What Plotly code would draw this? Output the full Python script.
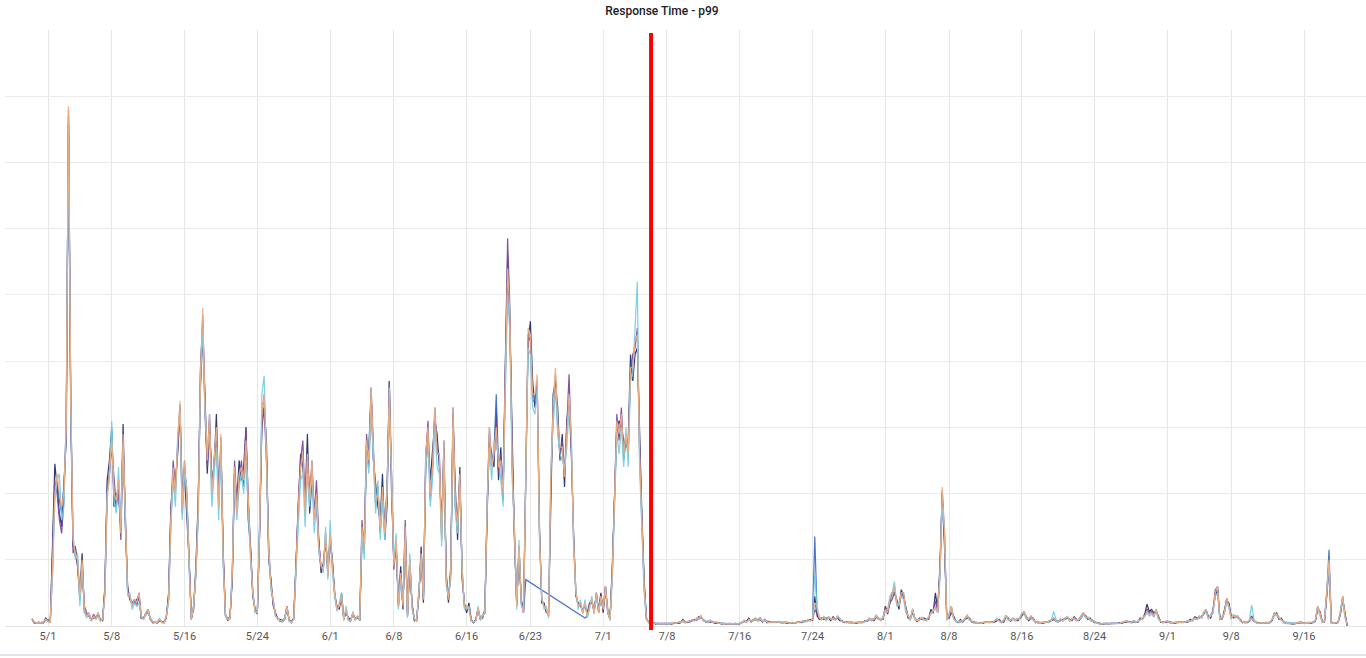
import pandas as pd
import plotly.graph_objects as go

# ---------------- data (6-hour samples starting 2019-04-29 06:00) ----------------
series_start = "2019-04-29 06:00"

node_peach = [
    0.12,0.05,0.04,0.05,0.04,0.06,0.1,0.08,0.05,0.9,
    2.0,2.3,2.0,1.8,2.0,3.0,7.85,3.5,1.3,1.1,
    1.0,0.45,1.0,0.25,0.15,0.2,0.08,0.15,0.1,0.2,
    0.08,0.1,0.5,1.9,2.4,2.8,2.0,1.9,2.2,1.4,
    2.9,1.6,0.5,0.45,0.3,0.4,0.35,0.5,0.15,0.1,
    0.2,0.25,0.1,0.06,0.05,0.05,0.1,0.06,0.05,0.15,
    0.4,1.6,2.4,2.0,2.8,3.4,1.8,2.5,1.9,0.9,
    0.1,0.3,0.8,1.7,3.8,4.8,3.3,2.5,3.2,2.0,
    2.6,3.0,1.8,2.9,1.0,0.15,0.1,0.12,0.8,2.4,
    1.7,2.3,2.4,2.2,2.8,1.8,1.1,0.5,0.22,0.2,
    1.4,3.2,3.5,2.6,1.1,0.6,0.35,0.15,0.12,0.08,
    0.06,0.1,0.3,0.08,0.06,0.1,0.9,1.8,2.4,2.6,
    1.7,2.6,1.9,2.5,1.6,2.0,1.2,0.9,0.85,1.4,
    0.75,1.4,0.9,0.5,0.25,0.3,0.45,0.1,0.25,0.1,
    0.08,0.2,0.1,0.15,0.08,1.5,1.2,2.8,2.5,3.6,
    2.7,1.9,2.0,1.5,2.1,1.4,2.0,3.6,2.2,0.9,
    1.3,0.3,0.8,0.3,1.5,0.15,1.0,0.3,0.1,0.08,
    0.5,1.1,0.4,2.6,3.0,2.0,2.4,3.3,2.6,2.6,
    1.3,2.8,0.7,0.4,0.8,3.3,1.9,1.5,2.3,0.8,
    0.3,0.25,0.3,0.08,0.06,0.08,0.27,0.1,0.15,0.2,
    1.8,3.0,2.4,2.6,3.0,2.4,2.5,2.0,3.8,5.4,
    4.7,2.4,1.4,0.3,1.2,0.35,0.2,2.5,4.5,4.4,
    3.5,3.5,3.8,1.4,0.4,0.3,0.25,0.15,2.3,3.3,
    3.9,3.1,2.7,2.7,2.25,2.9,3.5,2.8,1.3,0.5,
    0.3,0.35,0.2,0.35,0.15,0.3,0.4,0.2,0.5,0.2,
    0.45,0.25,0.6,0.2,0.1,0.8,1.8,3.1,2.9,3.2,
    2.6,2.9,2.6,3.9,3.9,4.3,4.4,2.6,1.6,0.6,
    0.12,0.05,
    0.05,0.04,0.04,0.03,0.03,0.04,0.03,0.04,0.03,0.04,
    0.05,0.04,0.05,0.06,0.08,0.05,0.06,0.07,0.09,0.08,
    0.1,0.12,0.16,0.08,0.07,0.06,0.08,0.06,0.05,0.06,
    0.04,0.04,0.03,0.04,0.03,0.04,0.03,0.04,0.03,0.04,
    0.05,0.08,0.06,0.1,0.07,0.09,0.12,0.08,0.1,0.07,
    0.09,0.06,0.05,0.07,0.05,0.06,0.07,0.05,0.04,0.06,
    0.05,0.04,0.05,0.04,0.06,0.05,0.06,0.08,0.07,0.09,
    0.08,0.1,0.35,0.3,0.12,0.1,0.13,0.09,0.14,0.1,
    0.12,0.09,0.15,0.1,0.07,0.06,0.05,0.06,0.05,0.04,
    0.05,0.06,0.05,0.06,0.07,0.08,0.12,0.08,0.1,0.16,
    0.12,0.08,0.12,0.25,0.2,0.4,0.45,0.6,0.35,0.3,
    0.5,0.5,0.25,0.15,0.1,0.26,0.1,0.08,0.1,0.12,
    0.1,0.08,0.12,0.2,0.22,0.3,0.2,0.8,2.1,1.4,
    0.1,0.15,0.3,0.12,0.07,0.06,0.08,0.07,0.12,0.16,
    0.1,0.07,0.05,0.04,0.05,0.04,0.05,0.06,0.05,0.06,
    0.05,0.07,0.1,0.08,0.05,0.08,0.16,0.1,0.08,0.12,
    0.08,0.1,0.12,0.18,0.22,0.12,0.1,0.15,0.1,0.06,
    0.05,0.04,0.05,0.06,0.05,0.07,0.1,0.12,0.07,0.06,
    0.1,0.08,0.12,0.14,0.08,0.1,0.12,0.08,0.1,0.15,
    0.2,0.14,0.12,0.1,0.08,0.06,0.04,0.03,0.03,0.04,
    0.03,0.03,0.04,0.03,0.04,0.03,0.04,0.05,0.07,0.08,
    0.06,0.05,0.08,0.06,0.07,0.1,0.12,0.15,0.22,0.18,
    0.2,0.15,0.25,0.12,0.07,0.05,0.06,0.08,0.05,0.04,
    0.05,0.06,0.05,0.06,0.05,0.07,0.08,0.07,0.1,0.12,
    0.1,0.15,0.12,0.2,0.25,0.12,0.15,0.2,0.5,0.6,
    0.1,0.12,0.2,0.42,0.3,0.12,0.15,0.13,0.15,0.08,
    0.06,0.05,0.06,0.08,0.12,0.07,0.05,0.04,0.05,0.04,
    0.05,0.04,0.06,0.1,0.2,0.16,0.12,0.1,0.06,0.04,
    0.04,0.03,0.04,0.03,0.05,0.06,0.05,0.04,0.05,0.04,
    0.05,0.06,0.08,0.3,0.2,0.06,0.07,0.5,1.0,0.05,
    0.04,0.05,0.06,0.2,0.45,0.15,0.02,
]

node_navy = [
    0.1,0.04,0.05,0.04,0.05,0.05,0.12,0.07,0.06,1.1,
    2.45,2.1,1.7,1.5,2.2,2.8,7.6,3.2,1.2,1.2,
    0.9,0.5,1.1,0.2,0.18,0.15,0.1,0.12,0.12,0.18,
    0.1,0.08,0.6,2.2,2.5,3.0,1.8,2.0,2.0,1.5,
    3.05,1.5,0.6,0.4,0.35,0.35,0.4,0.45,0.12,0.12,
    0.18,0.2,0.12,0.05,0.06,0.04,0.08,0.07,0.06,0.12,
    0.5,1.8,2.2,2.2,2.6,3.3,2.0,2.3,1.7,1.0,
    0.12,0.25,0.9,1.9,3.6,4.4,3.5,2.3,3.0,2.2,
    2.4,3.2,1.9,2.7,1.1,0.18,0.08,0.15,0.7,2.3,
    1.9,2.5,2.2,2.4,3.0,1.6,1.2,0.45,0.25,0.18,
    1.5,3.0,3.3,2.8,1.0,0.7,0.3,0.18,0.1,0.1,
    0.08,0.12,0.25,0.1,0.05,0.12,1.0,1.7,2.6,2.4,
    1.9,2.9,1.7,2.2,1.8,1.8,1.3,0.8,0.95,1.3,
    0.85,1.3,1.0,0.45,0.3,0.25,0.5,0.12,0.2,0.12,
    0.1,0.18,0.12,0.12,0.1,1.3,1.3,2.6,2.7,3.5,
    2.5,2.1,1.8,1.6,2.3,1.3,1.8,3.7,2.0,1.0,
    1.2,0.35,0.9,0.25,1.4,0.2,0.9,0.35,0.08,0.1,
    0.45,1.2,0.35,2.4,2.8,2.2,2.6,3.1,2.9,2.4,
    1.5,2.6,0.8,0.35,0.9,3.1,2.1,1.3,2.4,0.7,
    0.35,0.2,0.35,0.1,0.05,0.1,0.25,0.12,0.12,0.25,
    1.7,2.8,2.6,2.4,3.3,2.2,2.7,1.9,3.9,5.6,
    4.5,2.6,1.3,0.35,1.1,0.4,0.25,2.3,4.3,4.6,
    3.7,3.3,3.6,1.5,0.35,0.35,0.2,0.2,2.1,3.5,
    3.7,3.3,2.5,2.9,2.1,3.1,3.4,2.6,1.4,0.45,
    0.35,0.3,0.25,0.3,0.2,0.35,0.35,0.25,0.45,0.25,
    0.5,0.2,0.55,0.25,0.12,0.9,2.0,3.0,3.1,3.0,
    2.8,2.7,2.8,4.1,3.7,4.1,4.2,2.8,1.7,0.7,
    0.1,0.06,
    0.04,0.05,0.03,0.04,0.03,0.03,0.04,0.03,0.04,0.03,
    0.04,0.05,0.04,0.05,0.1,0.06,0.05,0.08,0.08,0.09,
    0.09,0.14,0.12,0.1,0.06,0.07,0.06,0.07,0.04,0.05,
    0.05,0.03,0.04,0.03,0.04,0.04,0.03,0.03,0.04,0.03,
    0.06,0.07,0.07,0.12,0.06,0.1,0.1,0.09,0.12,0.06,
    0.1,0.05,0.06,0.06,0.06,0.05,0.06,0.06,0.05,0.05,
    0.04,0.05,0.05,0.04,0.05,0.06,0.05,0.07,0.08,0.08,
    0.1,0.09,0.45,0.15,0.1,0.12,0.1,0.12,0.12,0.08,
    0.14,0.1,0.12,0.08,0.08,0.05,0.06,0.05,0.06,0.05,
    0.04,0.05,0.06,0.05,0.08,0.07,0.1,0.1,0.08,0.14,
    0.1,0.1,0.1,0.3,0.18,0.35,0.5,0.5,0.4,0.25,
    0.55,0.45,0.3,0.12,0.12,0.2,0.12,0.06,0.12,0.1,
    0.12,0.1,0.1,0.25,0.2,0.5,0.25,0.9,2.0,1.2,
    0.12,0.12,0.2,0.15,0.08,0.05,0.1,0.06,0.1,0.12,
    0.12,0.06,0.06,0.05,0.04,0.05,0.04,0.06,0.05,0.05,
    0.06,0.06,0.08,0.1,0.06,0.06,0.14,0.12,0.07,0.1,
    0.1,0.08,0.1,0.15,0.2,0.14,0.08,0.12,0.12,0.05,
    0.06,0.05,0.04,0.05,0.06,0.06,0.08,0.1,0.08,0.07,
    0.08,0.1,0.1,0.12,0.1,0.08,0.14,0.1,0.08,0.12,
    0.18,0.16,0.1,0.12,0.07,0.05,0.05,0.04,0.03,0.03,
    0.04,0.03,0.04,0.04,0.03,0.04,0.05,0.04,0.06,0.06,
    0.07,0.06,0.06,0.07,0.06,0.12,0.1,0.18,0.33,0.22,
    0.25,0.2,0.22,0.15,0.06,0.06,0.05,0.07,0.06,0.05,
    0.04,0.05,0.06,0.05,0.06,0.06,0.06,0.1,0.08,0.14,
    0.12,0.12,0.15,0.18,0.22,0.15,0.12,0.25,0.45,0.55,
    0.15,0.1,0.22,0.38,0.35,0.15,0.12,0.15,0.12,0.1,
    0.05,0.06,0.05,0.07,0.15,0.08,0.06,0.05,0.04,0.05,
    0.05,0.05,0.05,0.08,0.18,0.2,0.1,0.12,0.05,0.05,
    0.05,0.04,0.03,0.04,0.04,0.05,0.06,0.04,0.05,0.05,
    0.04,0.05,0.07,0.25,0.22,0.07,0.06,0.45,0.9,0.06,
    0.05,0.04,0.06,0.18,0.4,0.2,0.0,
]

node_cyan = [
    0.08,0.06,0.05,0.04,0.05,0.07,0.1,0.07,0.06,0.8,
    1.9,2.2,2.3,1.6,1.8,3.2,7.7,3.3,1.4,1.0,
    1.1,0.3,0.9,0.2,0.12,0.18,0.07,0.14,0.1,0.15,
    0.07,0.1,0.45,2.0,2.2,3.1,1.9,1.7,2.4,1.5,
    2.7,1.4,0.45,0.5,0.25,0.35,0.3,0.35,0.14,0.1,
    0.16,0.22,0.12,0.07,0.06,0.05,0.12,0.05,0.04,0.15,
    0.35,1.5,2.2,1.8,2.9,3.2,1.6,2.3,2.1,0.85,
    0.12,0.3,0.75,1.6,3.7,4.5,3.2,2.7,2.9,1.8,
    2.3,2.7,1.6,2.6,0.9,0.18,0.1,0.1,0.9,2.2,
    1.6,2.1,2.3,2.0,2.5,1.7,1.0,0.55,0.2,0.22,
    1.6,3.5,3.78,2.4,1.2,0.55,0.4,0.15,0.1,0.08,
    0.07,0.12,0.28,0.07,0.05,0.1,0.8,1.7,2.2,2.3,
    1.5,2.3,1.8,2.3,1.4,1.9,1.1,0.95,0.8,1.5,
    0.7,1.6,0.8,0.45,0.22,0.35,0.5,0.08,0.3,0.08,
    0.06,0.22,0.08,0.16,0.1,1.4,1.0,2.6,2.3,3.3,
    2.5,1.7,2.2,1.3,1.9,1.3,2.1,3.3,2.3,1.0,
    1.4,0.25,0.7,0.35,1.3,0.12,1.1,0.25,0.12,0.07,
    0.55,1.0,0.45,2.4,2.8,1.8,2.2,3.0,2.4,2.3,
    1.2,2.5,0.6,0.45,0.7,3.0,1.7,1.4,2.1,0.9,
    0.25,0.3,0.25,0.07,0.07,0.07,0.3,0.08,0.18,0.18,
    1.9,2.7,2.2,2.8,2.7,2.6,2.2,1.8,3.5,5.0,
    4.4,2.2,1.5,0.25,1.3,0.3,0.22,2.6,4.2,4.1,
    3.3,3.2,3.6,1.3,0.45,0.25,0.3,0.12,2.4,3.0,
    3.6,2.9,2.6,2.5,2.4,2.7,3.3,2.9,1.2,0.55,
    0.25,0.4,0.18,0.4,0.12,0.25,0.45,0.18,0.45,0.22,
    0.4,0.3,0.55,0.25,0.08,0.7,1.7,2.9,2.6,3.0,
    2.4,3.0,2.4,3.7,3.8,4.6,5.2,2.4,1.5,0.5,
    0.1,0.05,
    0.05,0.04,0.05,0.03,0.04,0.04,0.03,0.04,0.03,0.05,
    0.05,0.04,0.06,0.05,0.07,0.06,0.07,0.06,0.1,0.07,
    0.12,0.1,0.14,0.09,0.08,0.05,0.09,0.05,0.06,0.05,
    0.04,0.05,0.03,0.04,0.04,0.03,0.04,0.04,0.03,0.05,
    0.05,0.09,0.05,0.09,0.08,0.08,0.1,0.07,0.12,0.08,
    0.08,0.07,0.05,0.06,0.06,0.07,0.05,0.06,0.05,0.05,
    0.06,0.04,0.06,0.05,0.05,0.06,0.07,0.07,0.06,0.1,
    0.07,0.12,0.8,0.25,0.14,0.09,0.15,0.08,0.12,0.12,
    0.1,0.1,0.13,0.12,0.06,0.07,0.05,0.05,0.04,0.05,
    0.06,0.05,0.06,0.06,0.06,0.09,0.1,0.1,0.12,0.15,
    0.1,0.09,0.15,0.22,0.25,0.45,0.5,0.67,0.3,0.35,
    0.45,0.4,0.2,0.18,0.08,0.24,0.12,0.09,0.08,0.14,
    0.08,0.1,0.14,0.18,0.25,0.25,0.22,0.7,1.8,1.5,
    0.08,0.2,0.25,0.1,0.08,0.07,0.06,0.08,0.1,0.15,
    0.08,0.08,0.04,0.05,0.05,0.04,0.06,0.05,0.06,0.05,
    0.05,0.08,0.12,0.07,0.05,0.1,0.15,0.08,0.1,0.1,
    0.09,0.12,0.1,0.2,0.18,0.1,0.12,0.12,0.08,0.07,
    0.04,0.05,0.06,0.05,0.07,0.05,0.08,0.22,0.1,0.06,
    0.12,0.07,0.1,0.15,0.07,0.12,0.1,0.1,0.09,0.12,
    0.18,0.12,0.14,0.08,0.07,0.05,0.04,0.04,0.03,0.04,
    0.03,0.04,0.03,0.04,0.04,0.03,0.04,0.06,0.06,0.07,
    0.05,0.06,0.07,0.05,0.08,0.09,0.1,0.14,0.2,0.15,
    0.18,0.13,0.22,0.1,0.08,0.05,0.07,0.07,0.05,0.05,
    0.06,0.05,0.06,0.05,0.06,0.06,0.07,0.08,0.1,0.1,
    0.1,0.12,0.14,0.22,0.2,0.1,0.18,0.22,0.45,0.5,
    0.12,0.14,0.18,0.35,0.28,0.1,0.18,0.12,0.14,0.08,
    0.07,0.05,0.06,0.09,0.32,0.1,0.05,0.04,0.05,0.04,
    0.06,0.05,0.05,0.1,0.15,0.18,0.14,0.08,0.07,0.05,
    0.04,0.04,0.05,0.03,0.05,0.05,0.05,0.05,0.04,0.06,
    0.05,0.05,0.09,0.28,0.15,0.06,0.08,0.55,0.95,0.04,
    0.05,0.05,0.05,0.22,0.42,0.12,0.02,
]

node_purple = [
    0.1,0.05,0.04,0.06,0.04,0.05,0.09,0.1,0.05,1.0,
    2.2,2.0,1.6,1.4,1.9,3.1,7.7,3.4,1.1,1.2,
    0.9,0.4,0.8,0.3,0.2,0.15,0.08,0.18,0.12,0.15,
    0.1,0.1,0.55,2.1,2.3,2.7,2.2,1.8,2.1,1.3,
    2.8,1.7,0.55,0.4,0.35,0.4,0.3,0.45,0.12,0.12,
    0.18,0.25,0.1,0.05,0.05,0.06,0.1,0.06,0.05,0.14,
    0.45,1.7,2.5,2.1,2.7,3.2,1.7,2.4,2.0,1.0,
    0.1,0.3,0.8,1.8,3.9,4.6,3.2,2.4,3.1,2.1,
    2.5,2.8,2.0,2.7,1.1,0.15,0.12,0.12,0.75,2.5,
    1.8,2.2,2.5,2.1,3.0,1.9,1.2,0.5,0.25,0.2,
    1.4,3.1,3.3,2.5,1.2,0.6,0.35,0.18,0.12,0.07,
    0.07,0.1,0.3,0.08,0.07,0.12,0.95,1.9,2.5,2.8,
    1.8,2.5,2.0,2.4,1.7,2.2,1.3,0.85,0.9,1.3,
    0.8,1.3,0.95,0.5,0.25,0.3,0.4,0.1,0.22,0.1,
    0.08,0.18,0.1,0.14,0.08,1.6,1.1,2.9,2.4,3.5,
    2.6,1.8,2.1,1.4,2.0,1.5,2.1,3.4,2.3,0.85,
    1.2,0.3,0.75,0.3,1.6,0.15,1.0,0.3,0.1,0.08,
    0.5,1.0,0.4,2.5,3.1,1.9,2.4,3.2,2.7,2.5,
    1.4,2.7,0.75,0.4,0.8,3.2,1.8,1.6,2.2,0.85,
    0.3,0.25,0.3,0.08,0.06,0.08,0.25,0.1,0.15,0.2,
    1.8,2.9,2.5,2.5,3.1,2.3,2.6,2.1,4.0,5.85,
    4.8,2.5,1.4,0.3,1.2,0.35,0.2,2.4,4.4,4.3,
    3.4,3.4,3.7,1.4,0.4,0.3,0.25,0.15,2.2,3.2,
    3.8,3.0,2.6,2.8,2.3,3.0,3.8,2.7,1.3,0.5,
    0.3,0.35,0.2,0.35,0.15,0.3,0.4,0.2,0.5,0.2,
    0.45,0.25,0.6,0.2,0.1,0.8,1.9,3.2,2.8,3.3,
    2.5,2.8,2.7,3.8,4.1,4.2,4.5,2.7,1.6,0.6,
    0.12,0.05,
    0.04,0.05,0.04,0.04,0.03,0.03,0.04,0.03,0.04,0.04,
    0.04,0.05,0.05,0.05,0.07,0.06,0.06,0.06,0.08,0.1,
    0.09,0.11,0.13,0.09,0.07,0.07,0.06,0.06,0.05,0.05,
    0.05,0.04,0.04,0.03,0.04,0.03,0.04,0.04,0.03,0.04,
    0.06,0.07,0.07,0.09,0.08,0.08,0.1,0.09,0.09,0.08,
    0.08,0.07,0.06,0.06,0.06,0.05,0.06,0.06,0.05,0.05,
    0.05,0.05,0.04,0.05,0.05,0.06,0.05,0.07,0.08,0.08,
    0.09,0.09,0.25,0.18,0.12,0.11,0.12,0.1,0.12,0.11,
    0.11,0.1,0.13,0.09,0.07,0.06,0.06,0.05,0.05,0.05,
    0.05,0.05,0.06,0.05,0.07,0.08,0.1,0.09,0.09,0.14,
    0.11,0.09,0.11,0.28,0.22,0.35,0.4,0.5,0.38,0.32,
    0.45,0.45,0.28,0.14,0.11,0.22,0.11,0.07,0.11,0.11,
    0.11,0.09,0.11,0.22,0.2,0.38,0.22,0.85,1.95,1.3,
    0.11,0.14,0.26,0.13,0.07,0.06,0.07,0.07,0.11,0.14,
    0.11,0.07,0.06,0.05,0.05,0.05,0.05,0.05,0.05,0.06,
    0.06,0.07,0.09,0.09,0.06,0.07,0.14,0.11,0.08,0.11,
    0.09,0.09,0.11,0.16,0.2,0.13,0.09,0.14,0.11,0.06,
    0.05,0.05,0.05,0.05,0.06,0.06,0.09,0.11,0.08,0.06,
    0.09,0.09,0.11,0.13,0.09,0.09,0.13,0.09,0.09,0.14,
    0.19,0.15,0.11,0.11,0.08,0.06,0.05,0.04,0.03,0.04,
    0.04,0.03,0.04,0.04,0.04,0.04,0.04,0.05,0.06,0.07,
    0.07,0.05,0.07,0.07,0.06,0.11,0.11,0.16,0.26,0.2,
    0.22,0.16,0.24,0.13,0.07,0.05,0.06,0.07,0.06,0.05,
    0.05,0.05,0.05,0.06,0.05,0.06,0.07,0.08,0.09,0.13,
    0.11,0.13,0.13,0.19,0.23,0.13,0.14,0.22,0.55,0.58,
    0.12,0.11,0.21,0.4,0.32,0.13,0.14,0.14,0.13,0.09,
    0.06,0.05,0.05,0.08,0.13,0.08,0.05,0.05,0.04,0.05,
    0.05,0.05,0.05,0.09,0.19,0.18,0.11,0.11,0.06,0.05,
    0.04,0.04,0.04,0.04,0.05,0.05,0.05,0.05,0.05,0.05,
    0.05,0.05,0.08,0.28,0.21,0.07,0.07,0.48,0.95,0.05,
    0.05,0.05,0.05,0.19,0.43,0.17,0.02,
]

node_blue = [
    0.11,0.05,0.05,0.04,0.05,0.06,0.1,0.08,0.06,0.85,
    2.1,2.2,1.9,1.7,2.1,2.9,7.8,3.4,1.25,1.05,
    1.0,0.45,0.95,0.25,0.15,0.2,0.08,0.15,0.1,0.2,
    0.08,0.1,0.5,2.0,2.3,2.9,2.0,1.8,2.2,1.45,
    2.85,1.6,0.5,0.45,0.3,0.4,0.35,0.5,0.15,0.1,
    0.2,0.25,0.1,0.06,0.05,0.05,0.1,0.06,0.05,0.15,
    0.4,1.6,2.3,2.0,2.75,3.35,1.8,2.5,1.9,0.9,
    0.1,0.3,0.8,1.7,3.8,4.7,3.3,2.5,3.2,2.0,
    2.6,3.0,1.8,2.85,1.0,0.15,0.1,0.12,0.8,2.4,
    1.7,2.3,2.4,2.2,2.8,1.8,1.1,0.5,0.22,0.2,
    1.4,3.2,3.5,2.6,1.1,0.6,0.35,0.15,0.12,0.08,
    0.06,0.1,0.3,0.08,0.06,0.1,0.9,1.8,2.4,2.6,
    1.7,2.6,1.9,2.5,1.6,2.0,1.2,0.9,0.85,1.4,
    0.75,1.4,0.9,0.5,0.25,0.3,0.45,0.1,0.25,0.1,
    0.08,0.2,0.1,0.15,0.08,1.5,1.2,2.8,2.5,3.6,
    2.7,1.9,2.0,1.5,2.1,1.4,2.0,3.7,2.2,0.9,
    1.3,0.3,0.8,0.3,1.5,0.15,1.0,0.3,0.1,0.08,
    0.5,1.1,0.4,2.6,3.0,2.0,2.4,3.3,2.6,2.6,
    1.3,2.8,0.7,0.4,0.8,3.3,1.9,1.5,2.3,0.8,
    0.3,0.25,0.3,0.08,0.06,0.08,0.27,0.1,0.15,0.2,
    1.8,3.0,2.4,2.6,3.5,2.4,2.5,2.0,3.8,5.3,
    4.6,2.4,1.4,0.3,1.2,0.35,0.2,0.7,None,None,
    None,None,None,None,None,None,None,None,None,None,
    None,None,None,None,None,None,None,None,None,None,
    None,None,None,0.12,0.15,0.3,0.4,0.2,0.5,0.2,
    0.45,0.25,0.6,0.2,0.1,0.8,1.8,3.1,2.9,3.2,
    2.6,2.9,2.6,3.9,3.9,4.3,4.4,2.6,1.6,0.6,
    0.12,0.05,
    0.05,0.04,0.04,0.03,0.03,0.04,0.03,0.04,0.03,0.04,
    0.05,0.04,0.05,0.06,0.08,0.05,0.06,0.07,0.09,0.08,
    0.1,0.12,0.15,0.08,0.07,0.06,0.08,0.06,0.05,0.06,
    0.04,0.04,0.03,0.04,0.03,0.04,0.03,0.04,0.03,0.04,
    0.05,0.08,0.06,0.1,0.07,0.09,0.12,0.08,0.1,0.07,
    0.09,0.06,0.05,0.07,0.05,0.06,0.07,0.05,0.04,0.06,
    0.05,0.04,0.05,0.04,0.06,0.05,0.06,0.08,0.07,0.09,
    0.08,0.1,1.35,0.2,0.12,0.1,0.13,0.09,0.14,0.1,
    0.12,0.09,0.15,0.1,0.07,0.06,0.05,0.06,0.05,0.04,
    0.05,0.06,0.05,0.06,0.07,0.08,0.12,0.08,0.1,0.16,
    0.12,0.08,0.12,0.25,0.2,0.4,0.45,0.6,0.35,0.3,
    0.5,0.5,0.25,0.15,0.1,0.26,0.1,0.08,0.1,0.12,
    0.1,0.08,0.12,0.2,0.22,0.3,0.2,0.8,2.05,1.4,
    0.1,0.15,0.3,0.12,0.07,0.06,0.08,0.07,0.12,0.16,
    0.1,0.07,0.05,0.04,0.05,0.04,0.05,0.06,0.05,0.06,
    0.05,0.07,0.1,0.08,0.05,0.08,0.16,0.1,0.08,0.12,
    0.08,0.1,0.12,0.18,0.22,0.12,0.1,0.15,0.1,0.06,
    0.05,0.04,0.05,0.06,0.05,0.07,0.1,0.12,0.07,0.06,
    0.1,0.08,0.12,0.14,0.08,0.1,0.12,0.08,0.1,0.15,
    0.2,0.14,0.12,0.1,0.08,0.06,0.04,0.03,0.03,0.04,
    0.03,0.03,0.04,0.03,0.04,0.03,0.04,0.05,0.07,0.08,
    0.06,0.05,0.08,0.06,0.07,0.1,0.12,0.15,0.22,0.18,
    0.2,0.15,0.25,0.12,0.07,0.05,0.06,0.08,0.05,0.04,
    0.05,0.06,0.05,0.06,0.05,0.07,0.08,0.07,0.1,0.12,
    0.1,0.15,0.12,0.2,0.25,0.12,0.15,0.2,0.5,0.6,
    0.1,0.12,0.2,0.42,0.3,0.12,0.15,0.13,0.15,0.08,
    0.06,0.05,0.06,0.08,0.12,0.07,0.05,0.04,0.05,0.04,
    0.05,0.04,0.06,0.1,0.2,0.16,0.12,0.1,0.06,0.04,
    0.04,0.03,0.04,0.03,0.05,0.06,0.05,0.04,0.05,0.04,
    0.05,0.06,0.08,0.3,0.2,0.06,0.07,0.5,1.15,0.05,
    0.04,0.05,0.06,0.2,0.45,0.15,0.02,
]

# drawing order: first listed is drawn underneath
series_names = ["node-3", "node-5", "node-4", "node-2", "node-1"]
series_values = [node_navy, node_blue, node_purple, node_cyan, node_peach]
series_colors = ["#24306e", "#3d6fc4", "#7b4a9a", "#74cfe6", "#f0ae80"]

tick_dates = ["2019-05-01", "2019-05-08", "2019-05-16", "2019-05-24", "2019-06-01",
              "2019-06-08", "2019-06-16", "2019-06-23", "2019-07-01", "2019-07-08",
              "2019-07-16", "2019-07-24", "2019-08-01", "2019-08-08", "2019-08-16",
              "2019-08-24", "2019-09-01", "2019-09-08", "2019-09-16"]
tick_labels = ["5/1", "5/8", "5/16", "5/24", "6/1", "6/8", "6/16", "6/23", "7/1", "7/8",
               "7/16", "7/24", "8/1", "8/8", "8/16", "8/24", "9/1", "9/8", "9/16"]

cutover_time = "2019-07-06 06:15"
chart_title = "Response Time - p99"

# ---------------- figure ----------------
n_max = max(len(v) for v in series_values)
times = pd.date_range(series_start, periods=n_max, freq="6h")

fig = go.Figure()
for name, vals, col in zip(series_names, series_values, series_colors):
    fig.add_trace(go.Scatter(
        x=times[:len(vals)], y=vals, name=name, mode="lines",
        line=dict(color=col, width=1.2), connectgaps=True, opacity=0.95,
        hoverinfo="skip",
    ))

fig.update_layout(
    width=1366, height=658,
    margin=dict(l=5, r=0, t=30, b=32),
    paper_bgcolor="white", plot_bgcolor="white",
    showlegend=False,
    title=dict(text=chart_title, x=662/1366, xref="container", xanchor="center",
               y=1 - 11/658, yref="container", yanchor="middle",
               font=dict(family="Roboto", size=12, color="#222222", weight=500)),
    xaxis=dict(
        type="date",
        range=["2019-04-26 06:36", "2019-09-22 19:29"],
        tickmode="array", tickvals=tick_dates, ticktext=tick_labels,
        showgrid=True, gridcolor="#e6e6e6", gridwidth=1,
        showline=True, linecolor="#e3e3e3", linewidth=1,
        zeroline=False, ticks="",
        tickfont=dict(family="Roboto", size=11, color="#555555"),
    ),
    yaxis=dict(
        range=[0, 9], dtick=1, tick0=0,
        showgrid=True, gridcolor="#ebebeb", gridwidth=1,
        zeroline=False, showticklabels=False, ticks="", showline=False,
    ),
    shapes=[
        dict(type="line", xref="x", yref="paper",
             x0=cutover_time, x1=cutover_time, y0=-0.0067, y1=0.995,
             line=dict(color="#ff0000", width=4)),
        dict(type="line", xref="paper", yref="paper",
             x0=-0.004, x1=1, y0=-0.0487, y1=-0.0487,
             line=dict(color="#dfe4ea", width=2)),
    ],
)

fig.write_html("out.html", config={"displayModeBar": False},
               post_script="document.body.style.margin='0';document.body.style.overflow='hidden';")
